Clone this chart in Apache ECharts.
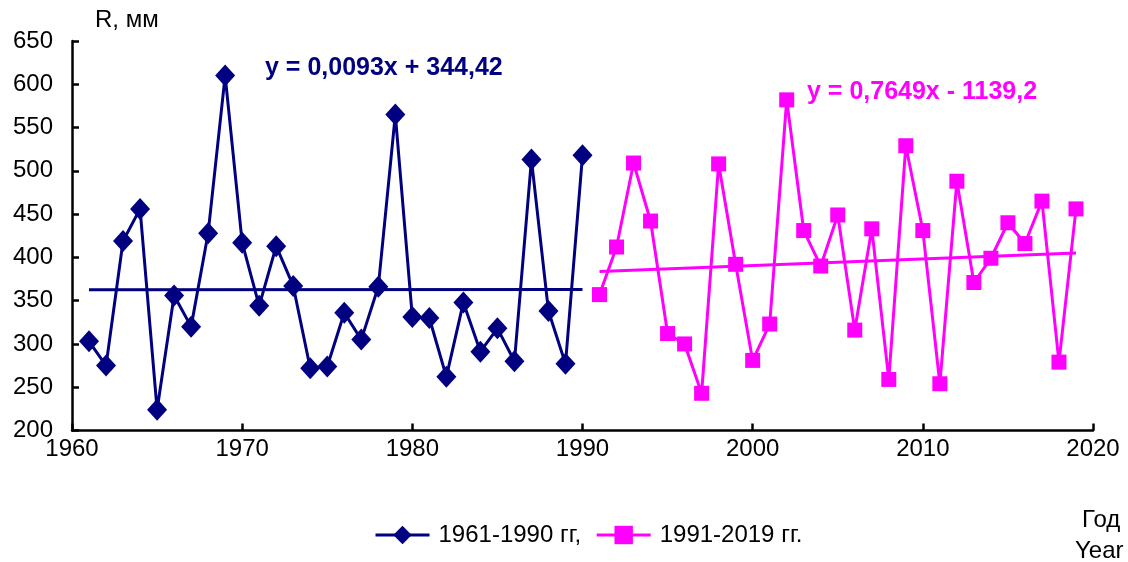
<!DOCTYPE html>
<html>
<head>
<meta charset="utf-8">
<script src="https://cdn.jsdelivr.net/npm/echarts@6/dist/echarts.min.js"></script>
<style>html,body{margin:0;padding:0;background:#fff}#c{width:1128px;height:562px}</style>
</head>
<body>
<div id="c"></div>
<script>
var years1 = [1961,1962,1963,1964,1965,1966,1967,1968,1969,1970,1971,1972,1973,1974,1975,1976,1977,1978,1979,1980,1981,1982,1983,1984,1985,1986,1987,1988,1989,1990];
var values1 = [303,275,419,456,224,356,320,428,610,417,344,413,367,272,274,336,305,366,565,331,330,262,348,291,318,280,513,338,277,518];
var years2 = [1991,1992,1993,1994,1995,1996,1997,1998,1999,2000,2001,2002,2003,2004,2005,2006,2007,2008,2009,2010,2011,2012,2013,2014,2015,2016,2017,2018,2019];
var values2 = [357,412,509,442,312,300,243,508,392,281,323,582,431,390,449,316,433,259,529,431,254,488,371,399,440,416,465,279,456];
var trend1Years = [1961, 1990];
var trend1Values = [362.7, 362.9];
var trend2Years = [1991, 2019];
var trend2Values = [383.7, 405.1];
var seriesNames = ['1961-1990 гг,', '1991-2019 гг.'];
var eq1 = 'y = 0,0093x + 344,42';
var eq2 = 'y = 0,7649x - 1139,2';
var yName = 'R, мм';
var xName1 = 'Год';
var xName2 = 'Year';

function pairs(xs, ys){ return xs.map(function(x,i){ return [x, ys[i]]; }); }

var NAVY = '#000080', MAG = '#FF00FF';
var FONT = 'Liberation Sans, Arial, sans-serif';

var chart = echarts.init(document.getElementById('c'), null, {renderer:'canvas'});
chart.setOption({
  animation: false,
  backgroundColor: '#fff',
  textStyle: {fontFamily: FONT},
  grid: {left: 72, right: 35, top: 41, bottom: 131.5, containLabel: false},
  xAxis: {
    type: 'value', min: 1960, max: 2020, interval: 10,
    axisLine: {onZero: false, lineStyle: {color: '#000', width: 2.5}},
    axisTick: {inside: true, length: 7, lineStyle: {color: '#000', width: 2.5}},
    axisLabel: {color: '#000', fontSize: 24, fontFamily: FONT, margin: 7, formatter: function(v){ return String(v); }},
    splitLine: {show: false}
  },
  yAxis: {
    type: 'value', min: 200, max: 650, interval: 50,
    axisLine: {show: true, lineStyle: {color: '#000', width: 2.5}},
    axisTick: {show: true, inside: true, length: 7, lineStyle: {color: '#000', width: 2.5}},
    axisLabel: {color: '#000', fontSize: 24, fontFamily: FONT, margin: 19},
    splitLine: {show: false}
  },
  legend: {
    data: seriesNames,
    left: 369, top: 518,
    itemWidth: 54, itemHeight: 23, itemGap: 14,
    lineStyle: {width: 3},
    textStyle: {color: '#000', fontSize: 24, fontFamily: FONT, padding: [0, 0, 0, 4]}
  },
  graphic: [
    {type: 'text', left: 95, top: 8, style: {text: yName, fill: '#000', font: '24px ' + FONT}},
    {type: 'text', left: 265, top: 56, style: {text: eq1, fill: NAVY, font: 'bold 25px ' + FONT}},
    {type: 'text', left: 807, top: 80, style: {text: eq2, fill: MAG, font: 'bold 25px ' + FONT}},
    {type: 'text', left: 1082, top: 508, style: {text: xName1, fill: '#000', font: '24px ' + FONT}},
    {type: 'text', left: 1075, top: 539, style: {text: xName2, fill: '#000', font: '24px ' + FONT}}
  ],
  series: [
    {
      name: seriesNames[0], type: 'line', data: pairs(years1, values1),
      symbol: 'diamond', symbolSize: [20, 22], z: 3,
      itemStyle: {color: NAVY}, lineStyle: {color: NAVY, width: 3}
    },
    {
      name: seriesNames[1], type: 'line', data: pairs(years2, values2),
      symbol: 'rect', symbolSize: 15, z: 3,
      itemStyle: {color: MAG}, lineStyle: {color: MAG, width: 3}
    },
    {
      name: 'trend1', type: 'line', data: pairs(trend1Years, trend1Values),
      symbol: 'none', silent: true, z: 2,
      lineStyle: {color: NAVY, width: 3}
    },
    {
      name: 'trend2', type: 'line', data: pairs(trend2Years, trend2Values),
      symbol: 'none', silent: true, z: 2,
      lineStyle: {color: MAG, width: 3}
    }
  ]
});
</script>
</body>
</html>
